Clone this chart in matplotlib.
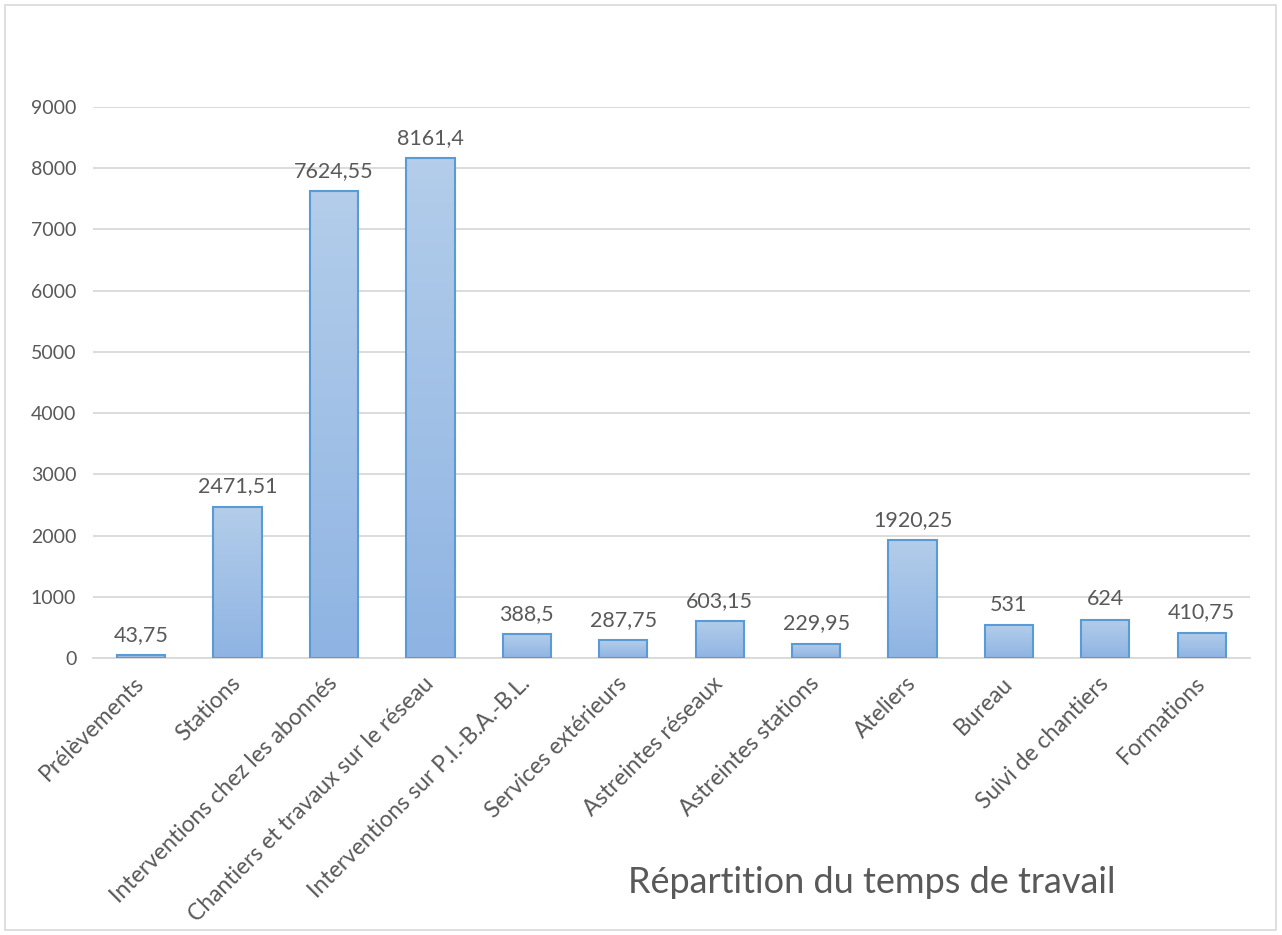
import matplotlib.pyplot as plt
import numpy as np
from matplotlib.patches import Rectangle
from matplotlib.colors import LinearSegmentedColormap

categories = ["Prélèvements", "Stations", "Interventions chez les abonnés",
              "Chantiers et travaux sur le réseau", "Interventions sur P.I.-B.A.-B.L.",
              "Services extérieurs", "Astreintes réseaux", "Astreintes stations",
              "Ateliers", "Bureau", "Suivi de chantiers", "Formations"]
values = [43.75, 2471.51, 7624.55, 8161.4, 388.5, 287.75, 603.15, 229.95,
          1920.25, 531, 624, 410.75]
labels = ["43,75", "2471,51", "7624,55", "8161,4", "388,5", "287,75", "603,15",
          "229,95", "1920,25", "531", "624", "410,75"]

plt.rcParams['font.family'] = ['Lato', 'DejaVu Sans']
txt = "#595959"

fig = plt.figure(figsize=(12.82, 9.35), dpi=100)
ax = fig.add_axes([0.0725, 0.2963, 0.9025, 0.5893])

grad = LinearSegmentedColormap.from_list("g", ["#8fb4e3", "#b3cdea"])
width = 0.5
x = np.arange(len(categories))
for xi, v in zip(x, values):
    ax.imshow(np.linspace(0, 1, 100).reshape(-1, 1), cmap=grad, origin="lower",
              extent=(xi - width / 2, xi + width / 2, 0, v), aspect="auto", zorder=2)
ax.bar(x, values, width=width, fill=False, edgecolor="#5b9bd5", linewidth=1.5, zorder=3)

for xi, v, lab in zip(x, values, labels):
    ax.text(xi, v + 170, lab, ha="center", va="bottom", fontsize=15.5, color=txt)

ax.set_xlim(-0.5, len(categories) - 0.5)
ax.set_ylim(0, 9000)
ax.set_yticks(range(0, 9001, 1000))
ax.yaxis.grid(True, color="#d9d9d9", linewidth=1.3, zorder=0)
ax.set_axisbelow(True)
for s in ["top", "right", "left"]:
    ax.spines[s].set_visible(False)
ax.spines["bottom"].set_color("#d9d9d9")
ax.spines["bottom"].set_linewidth(1.3)
ax.tick_params(length=0, labelsize=14, colors=txt, pad=12)
ax.set_xticks(x)
ax.set_xticklabels(categories, rotation=45, ha="right", va="center",
                   rotation_mode="anchor", fontsize=16.5)
ax.tick_params(axis="x", pad=16)

fig.text(0.68, 0.056, "Répartition du temps de travail", fontsize=26, color=txt,
         ha="center", va="center")
fig.patches.append(Rectangle((0.004, 0.005), 0.991, 0.99, transform=fig.transFigure,
                             fill=False, edgecolor="#d9d9d9", linewidth=1.2))

fig.savefig("out.png", dpi=100)
